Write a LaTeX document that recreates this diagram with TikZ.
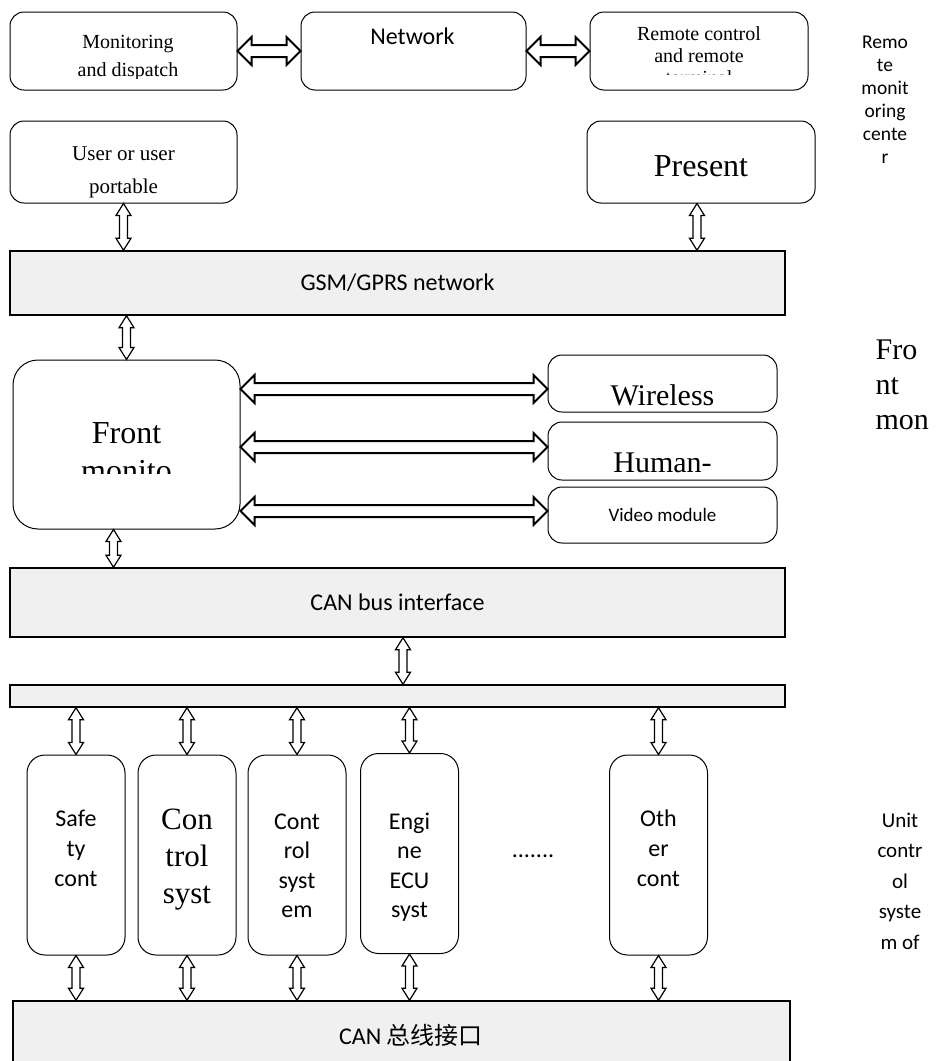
\documentclass[tikz,border=0pt]{standalone}
\usepackage{fontspec}
\setmainfont{Liberation Serif}
\newfontfamily\calib{Carlito}
\newfontfamily\cjk{Noto Sans CJK SC}
\usetikzlibrary{calc,positioning}
\definecolor{barfill}{RGB}{240,240,240}

\begin{document}
\begin{tikzpicture}[
                    x=1pt, y=-1pt,
                    line join=miter,
                    semithick,
                    hdbl/.style={draw, line width=2pt, fill=white, to path={
                        let \p1=(\tikztostart), \p2=(\tikztotarget) in
                        (\x1,\y2) -- (\x1+14pt,\y2+14pt) -- (\x1+14pt,\y2+6pt) -- (\x2-14pt,\y2+6pt)
                        -- (\x2-14pt,\y2+14pt) -- (\x2,\y2) -- (\x2-14pt,\y2-14pt) -- (\x2-14pt,\y2-6pt)
                        -- (\x1+14pt,\y2-6pt) -- (\x1+14pt,\y2-14pt) -- cycle}},
                    vdbl/.style={draw, line width=1.2pt, fill=white, to path={
                        let \p1=(\tikztostart), \p2=(\tikztotarget) in
                        (\x1,\y1) -- (\x1+7.5pt,\y1-12pt) -- (\x1+4pt,\y1-12pt) -- (\x1+4pt,\y2+12pt)
                        -- (\x1+7.5pt,\y2+12pt) -- (\x1,\y2) -- (\x1-7.5pt,\y2+12pt) -- (\x1-4pt,\y2+12pt)
                        -- (\x1-4pt,\y1-12pt) -- (\x1-7.5pt,\y1-12pt) -- cycle}}
                ]
                \tikzstyle{box}=[draw, line width=1pt, rounded corners=14pt, inner sep=0pt, fill=white]
                \tikzstyle{bar}=[draw, line width=1.5pt, fill=barfill, inner sep=0pt]
                \tikzstyle{unit}=[box, rounded corners=18pt, minimum width=98pt, minimum height=200pt]
                \tikzstyle{cal}=[font=\calib\fontsize{24}{30}\selectfont, align=center, inner sep=0pt]
                \tikzstyle{side}=[font=\calib\fontsize{19.5}{23}\selectfont, align=center, inner sep=0pt]

                \useasboundingbox (0,0) rectangle (949,1061);

                % remote monitoring center (base = last line)
                \node[box, minimum width=227pt, minimum height=78pt] (mon) at (123.5,51) {};
                \node[box, minimum width=225pt, minimum height=78pt, right=63pt of mon] (net) {};
                \node[box, minimum width=218pt, minimum height=78pt, right=63pt of net] (rem) {};
                \node[cal, anchor=base] (nett) at (412.5,44) {Network};
                \begin{scope}
                    \clip (mon.north west) rectangle ([yshift=12pt]mon.south east);
                    \node[font=\fontsize{20}{28}\selectfont, align=center, anchor=base] (mont) at (128,76) {Monitoring\\and dispatch};
                \end{scope}
                \begin{scope}
                    \clip (rem.north west) rectangle ([yshift=16pt]rem.south east);
                    \node[font=\fontsize{20}{22}\selectfont, align=center, anchor=base] (remt) at (699,84) {Remote control\\and remote\\terminal};
                \end{scope}
                \node[side, anchor=base] (rmc) at (885,163) {Remo\\te\\monit\\oring\\cente\\r};

                \node[box, minimum width=227pt, minimum height=82pt] (usr) at (123.5,162) {};
                \node[box, minimum width=228pt, minimum height=82pt] (pre) at (701,162) {};
                \node[font=\fontsize{21}{33}\selectfont, align=center, anchor=base] (usrt) at (123.5,193) {User or user\\portable};
                \node[font=\fontsize{32}{38}\selectfont, anchor=base] (pret) at (701,176) {Present};

                \path
                (mon.east) edge[hdbl] (net.west)
                (net.east) edge[hdbl] (rem.west)
                ;

                % GSM network
                \node[bar, cal, minimum width=775pt, minimum height=64pt] (gsm) at (397.5,283) {GSM/GPRS network};
                \draw[vdbl] (usr.south) to (gsm.north);
                \draw[vdbl] ([xshift=-4pt]pre.south) to (gsm.north);

                % front monitor
                \node[box, rounded corners=25pt, minimum width=227pt, minimum height=169pt] (fm) at (126.5,444.5) {};
                \begin{scope}
                    \clip (fm.north west) rectangle ([yshift=56pt]fm.south east);
                    \node[font=\fontsize{32}{38}\selectfont, align=center, anchor=base] (fmt) at (126.5,481) {Front\\monito};
                \end{scope}
                \node[box, minimum width=229pt, minimum height=57pt] (wl) at (662.5,383.5) {};
                \node[box, minimum width=229pt, minimum height=58pt] (hm) at (662.5,451) {};
                \node[box, minimum width=229pt, minimum height=56pt, font=\calib\fontsize{19}{24}\selectfont] (vid) at (662.5,515) {Video module};
                \node[font=\fontsize{30}{36}\selectfont, anchor=base] (wlt) at (662.5,405) {Wireless};
                \node[font=\fontsize{30}{36}\selectfont, anchor=base] (hmt) at (662.5,472) {Human-};
                \node[font=\fontsize{30}{35}\selectfont, align=left, anchor=base west] (fmc) at (872,429) {Fro\\nt\\mon};

                \draw[vdbl] (gsm.south -| fm.north) to (fm.north);
                \draw[hdbl] (fm.east) to ([yshift=-5.5pt]wl.west);
                \draw[hdbl] (fm.east) to ([yshift=4pt]hm.west);
                \draw[hdbl] (fm.east) to ([yshift=4pt]vid.west);

                % CAN bus
                \node[bar, cal, minimum width=775pt, minimum height=69pt] (can1) at (397.5,602.5) {CAN bus interface};
                \draw[vdbl] ([xshift=-13pt]fm.south) to (can1.north);
                \node[bar, minimum width=775pt, minimum height=22pt] (bus) at (397.5,696) {};
                \draw[vdbl] ([xshift=5.5pt]can1.south) to (bus.north);

                % unit control systems
                \node[unit] (saf) at (76,855) {};
                \node[unit] (ctl) at (187,855) {};
                \node[unit] (csy) at (297,855) {};
                \node[unit] (eng) at (409.5,853.5) {};
                \node[unit] (oth) at (658.5,855) {};
                \node[cal, anchor=base] (saft) at (76,886) {Safe\\ty\\cont};
                \node[font=\fontsize{31}{37}\selectfont, align=center, anchor=base] (ctlt) at (187,903) {Con\\trol\\syst};
                \node[cal, font=\calib\fontsize{24}{29.5}\selectfont, anchor=base] (csyt) at (297,917.5) {Cont\\rol\\syst\\em};
                \node[cal, font=\calib\fontsize{24}{29.5}\selectfont, anchor=base] (engt) at (409.5,917.5) {Engi\\ne\\ECU\\syst};
                \node[cal, anchor=base] (otht) at (658.5,886) {Oth\\er\\cont};
                \node[cal, anchor=base] (dots) at (533,857) {.......};
                \node[side, font=\calib\fontsize{21}{30.5}\selectfont, anchor=base] (uct) at (900,949) {Unit\\contr\\ol\\syste\\m of};

                \node[bar, minimum width=777pt, minimum height=74pt] (can2) at (401.5,1038) {};
                \node[anchor=base, inner sep=0pt] (can2t) at (411,1044) {\calib\fontsize{24}{30}\selectfont CAN \cjk 总线接口};

                \path
                (bus.south -| saf.north) edge[vdbl] (saf.north)
                (bus.south -| ctl.north) edge[vdbl] (ctl.north)
                (bus.south -| csy.north) edge[vdbl] (csy.north)
                (bus.south -| eng.north) edge[vdbl] (eng.north)
                (bus.south -| oth.north) edge[vdbl] (oth.north)
                (saf.south) edge[vdbl] (can2.north)
                (ctl.south) edge[vdbl] (can2.north)
                (csy.south) edge[vdbl] (can2.north)
                (eng.south) edge[vdbl] (can2.north)
                (oth.south) edge[vdbl] (can2.north)
                ;

            \end{tikzpicture}
\end{document}
